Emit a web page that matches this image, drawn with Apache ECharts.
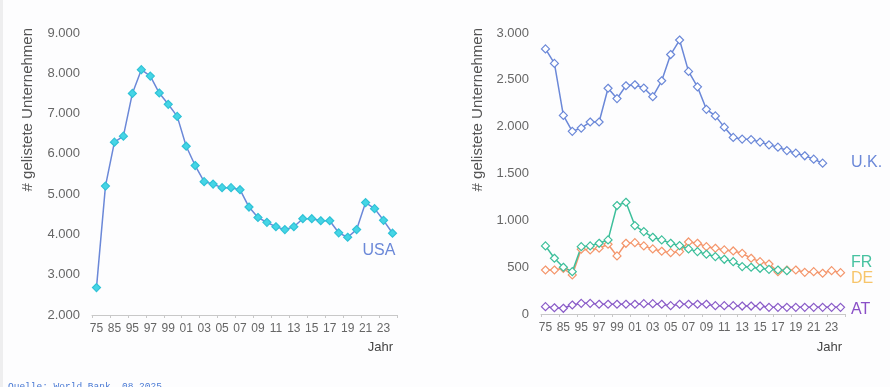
<!DOCTYPE html>
<html>
<head>
<meta charset="utf-8">
<script src="https://cdn.jsdelivr.net/npm/echarts@6/dist/echarts.min.js"></script>
<style>
html,body{margin:0;padding:0;background:#fdfdfe;}
#c{width:890px;height:387px;}
</style>
</head>
<body>
<div id="c"></div>
<script>
// Categories (years, two-digit)
const years = ['75','80','85','90','95','96','97','98','99','00','01','02','03','04','05','06','07','08','09','10','11','12','13','14','15','16','17','18','19','20','21','22','23','24'];

// Listed companies
const usa = [2680,5200,6290,6440,7500,8090,7930,7510,7230,6930,6190,5710,5310,5250,5160,5160,5110,4680,4420,4300,4190,4120,4190,4390,4390,4340,4340,4040,3930,4120,4790,4640,4350,4030];
const uk  = [2830,2675,2120,1950,1985,2050,2050,2410,2300,2437,2447,2412,2320,2490,2770,2925,2590,2425,2185,2115,1995,1885,1867,1862,1835,1806,1781,1745,1717,1689,1653,1610];
const fr  = [727,595,499,452,719,727,755,791,1158,1193,944,880,819,791,755,730,695,666,638,613,584,559,506,499,488,477,470,463];
const de  = [470,470,488,417,691,684,702,745,620,755,762,727,695,670,655,666,769,755,719,702,684,673,648,595,559,534,452,470,470,445,452,435,463,441];
const at  = [78,67,61,96,114,114,104,104,104,104,104,110,110,104,89,104,104,104,104,89,89,89,85,85,85,71,71,71,71,71,71,71,71,71];

const leftTicks = {min:2000,max:9000,interval:1000};
const rightTicks = {min:0,max:3000,interval:500};

function fmt(v){ return String(v).replace(/\B(?=(\d{3})+(?!\d))/g,'.'); }

const FONT = '"Liberation Sans", Arial, sans-serif';
const blue = '#6b88d8';

function xAxis(idx){
  return {
    type:'category', gridIndex:idx, data:years, boundaryGap:true,
    axisLine:{lineStyle:{color:'#c8c8c8',width:1}},
    axisTick:{show:true,length:3,lineStyle:{color:'#c8c8c8'}},
    axisLabel:{interval:1,color:'#666',fontSize:12,fontFamily:FONT,margin:8},
    splitLine:{show:false}
  };
}
function yAxis(idx,t){
  return {
    type:'value', gridIndex:idx, min:t.min, max:t.max, interval:t.interval,
    axisLine:{show:false}, axisTick:{show:false}, splitLine:{show:false},
    axisLabel:{color:'#666',fontSize:13,fontFamily:FONT,margin:12,formatter:fmt}
  };
}
function line(name,data,color,axis,fill,border,size){
  return {
    name:name, type:'line', xAxisIndex:axis, yAxisIndex:axis, data:data,
    symbol:'diamond', symbolSize:size||8, showSymbol:true, showAllSymbol:true,
    lineStyle:{color:color,width:1.5},
    itemStyle:{color:fill,borderColor:border,borderWidth:1.2},
    emphasis:{disabled:true}, animation:false, z:3
  };
}

const chart = echarts.init(document.getElementById('c'));
chart.setOption({
  backgroundColor:'#fdfdfe',
  animation:false,
  grid:[
    {left:92,right:493,top:33,bottom:72},
    {left:541,right:45,top:33,bottom:73}
  ],
  xAxis:[xAxis(0),xAxis(1)],
  yAxis:[yAxis(0,leftTicks),yAxis(1,rightTicks)],
  series:[
    line('USA',usa,blue,0,'#45d5e6','#2fc2d6',8),
    line('AT',at,'#8a5cc8',1,'#ffffff','#8a5cc8',8),
    line('DE',de,'#f4966c',1,'#ffffff','#f4966c',8),
    line('FR',fr,'#3dbf9b',1,'#ffffff','#3dbf9b',8),
    line('U.K.',uk,blue,1,'#ffffff',blue,8)
  ],
  graphic:[
    {type:'rect',left:0,top:0,shape:{width:3,height:387},style:{fill:'#eeeeef'}},
    {type:'text',x:28,y:28,rotation:Math.PI/2,style:{text:'# gelistete Unternehmen',font:'15px '+FONT,fill:'#555',align:'right',verticalAlign:'middle'}},
    {type:'text',x:478,y:28,rotation:Math.PI/2,style:{text:'# gelistete Unternehmen',font:'15px '+FONT,fill:'#555',align:'right',verticalAlign:'middle'}},
    {type:'text',x:393,y:347,style:{text:'Jahr',font:'13px '+FONT,fill:'#444',align:'right',verticalAlign:'middle'}},
    {type:'text',x:842,y:347,style:{text:'Jahr',font:'13px '+FONT,fill:'#444',align:'right',verticalAlign:'middle'}},
    {type:'text',x:379,y:251,style:{text:'USA',font:'16px '+FONT,fill:blue,align:'center',verticalAlign:'middle'}},
    {type:'text',x:851,y:163,style:{text:'U.K.',font:'16px '+FONT,fill:blue,align:'left',verticalAlign:'middle'}},
    {type:'text',x:851,y:263,style:{text:'FR',font:'16px '+FONT,fill:'#47c2a0',align:'left',verticalAlign:'middle'}},
    {type:'text',x:851,y:279,style:{text:'DE',font:'16px '+FONT,fill:'#f7c56a',align:'left',verticalAlign:'middle'}},
    {type:'text',x:851,y:310,style:{text:'AT',font:'16px '+FONT,fill:'#8a4fc7',align:'left',verticalAlign:'middle'}},
    {type:'text',x:8,y:386,style:{text:'Quelle: World Bank, 08.2025',font:'9.5px "Liberation Mono", "DejaVu Sans Mono", monospace',fill:'#4a7ad4',align:'left',verticalAlign:'middle'}}
  ]
});
</script>
</body>
</html>
